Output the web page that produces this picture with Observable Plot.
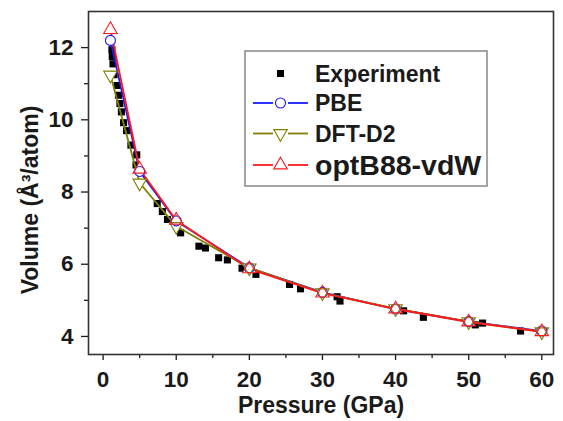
<!DOCTYPE html>
<html>
<head>
<meta charset="utf-8">
<script src="https://cdn.jsdelivr.net/npm/d3@7"></script>
<script src="https://cdn.jsdelivr.net/npm/@observablehq/plot@0.6"></script>
<style>
  html, body { margin: 0; padding: 0; background: white; }
</style>
</head>
<body>
<div id="chart"></div>
<script>
// Experimental data
const expPressure = [1.2, 1.25, 1.35, 1.5, 1.9, 2.1, 2.3, 2.5, 2.8, 3.2, 3.8, 4.6, 4.5, 7.4, 8.1, 8.8, 10.6, 13.1, 14.0, 15.8, 17.0, 19.0, 20.9, 25.5, 27.0, 32.0, 32.4, 41.1, 43.8, 50.9, 51.9, 57.1];
const expVolume   = [11.94, 11.75, 11.55, 11.25, 10.95, 10.68, 10.45, 10.22, 9.92, 9.7, 9.3, 9.03, 8.75, 7.68, 7.46, 7.24, 6.87, 6.5, 6.45, 6.18, 6.12, 5.89, 5.72, 5.44, 5.32, 5.1, 4.98, 4.71, 4.53, 4.32, 4.37, 4.15];

// Calculated data
const calcPressure = [1, 5, 10, 20, 30, 40, 50, 60];
const pbeVolume    = [12.2, 8.57, 7.2, 5.9, 5.22, 4.76, 4.41, 4.15];
const dftd2Volume  = [11.24, 8.25, 7.05, 5.9, 5.21, 4.77, 4.41, 4.13];
const optb88Volume = [12.5, 8.63, 7.22, 5.87, 5.2, 4.76, 4.4, 4.13];

const xMajor = [0, 10, 20, 30, 40, 50, 60];
const xMinor = [5, 15, 25, 35, 45, 55];
const yMajor = [4, 6, 8, 10, 12];
const yMinor = [5, 7, 9, 11];

const seriesNames = ["Experiment", "PBE", "DFT-D2", "optB88-vdW"];
const colors = {"PBE": "#1a1aff", "DFT-D2": "#808000", "optB88-vdW": "#ff1a1a"};

const triangleDown = {
  draw(context, size) {
    const y = -Math.sqrt(size / (3 * Math.sqrt(3)));
    context.moveTo(0, -2 * y);
    context.lineTo(-Math.sqrt(3) * y, y);
    context.lineTo(Math.sqrt(3) * y, y);
    context.closePath();
  }
};
const symbols = {"PBE": "circle", "DFT-D2": triangleDown, "optB88-vdW": "triangle"};

const expRows = expPressure.map((p, i) => ({p, v: expVolume[i]}));
const calc = [
  {name: "PBE", values: pbeVolume},
  {name: "DFT-D2", values: dftd2Volume},
  {name: "optB88-vdW", values: optb88Volume}
].map(s => ({name: s.name, rows: calcPressure.map((p, i) => ({p, v: s.values[i]}))}));

const font = "'Liberation Sans', Arial, Helvetica, sans-serif";

const lineMarks = calc.map(s => Plot.line(s.rows, {x: "p", y: "v", stroke: colors[s.name], strokeWidth: 1.8}));
const maskMarks = calc.map(s => Plot.dot(s.rows, {x: "p", y: "v", symbol: symbols[s.name], r: 5, fill: "white", stroke: "none"}));
const symbolMarks = calc.map(s => Plot.dot(s.rows, {x: "p", y: "v", symbol: symbols[s.name], r: 5, fill: "none", stroke: colors[s.name], strokeWidth: 1.1}));

const chart = Plot.plot({
  width: 563,
  height: 421,
  marginLeft: 88,
  marginRight: 10,
  marginTop: 11,
  marginBottom: 67,
  x: {domain: [-2, 61.6]},
  y: {domain: [3.5, 13]},
  style: {fontFamily: font, fontWeight: "bold", background: "white", color: "#1a1a1a"},
  marks: [
    Plot.axisX({ticks: xMajor, tickSize: 6, tickPadding: 11, fontSize: 22.5, fontWeight: "bold", label: null, strokeWidth: 1.3}),
    Plot.axisX({ticks: xMinor, tickSize: 4, tickFormat: () => "", label: null, strokeWidth: 1.3}),
    Plot.axisY({ticks: yMajor, tickSize: 7, tickPadding: 8, fontSize: 22.5, fontWeight: "bold", label: null, strokeWidth: 1.3}),
    Plot.axisY({ticks: yMinor, tickSize: 4, tickFormat: () => "", label: null, strokeWidth: 1.3}),
    Plot.text(["Pressure (GPa)"], {frameAnchor: "bottom", dy: 58, text: d => d, fontSize: 23, fontWeight: "bold", fill: "#1a1a1a"}),
    Plot.text(["Volume (Å³/atom)"], {frameAnchor: "left", textAnchor: "middle", dx: -58, dy: 17, rotate: -90, text: d => d, fontSize: 23, fontWeight: "bold", fill: "#1a1a1a"}),
    Plot.dot(expRows, {x: "p", y: "v", symbol: "square", r: 4, fill: "black"}),
    ...lineMarks,
    ...maskMarks,
    ...symbolMarks,
    Plot.frame({stroke: "#333", strokeWidth: 1.6})
  ]
});

// Legend drawn inside the plot area
const svg = d3.select(chart);
const lg = svg.append("g").attr("font-family", font).attr("font-weight", "bold").attr("text-anchor", "start");
lg.append("rect").attr("x", 245).attr("y", 51).attr("width", 242).attr("height", 135)
  .attr("fill", "white").attr("stroke", "#888").attr("stroke-width", 1.5);
const rowY = [73.5, 103, 133.5, 165];
const fontSizes = [23, 23, 23, 28.5];
seriesNames.forEach((name, i) => {
  const y = rowY[i];
  if (name === "Experiment") {
    lg.append("rect").attr("x", 277).attr("y", y - 3.5).attr("width", 7).attr("height", 7).attr("fill", "black");
  } else {
    const c = colors[name];
    lg.append("line").attr("x1", 253).attr("x2", 273).attr("y1", y).attr("y2", y).attr("stroke", c).attr("stroke-width", 1.8);
    lg.append("line").attr("x1", 288).attr("x2", 308).attr("y1", y).attr("y2", y).attr("stroke", c).attr("stroke-width", 1.8);
    const sym = name === "PBE" ? d3.symbolCircle : (name === "DFT-D2" ? triangleDown : d3.symbolTriangle);
    lg.append("path").attr("d", d3.symbol(sym, Math.PI * 25)()).attr("transform", `translate(280.5,${y})`)
      .attr("fill", "none").attr("stroke", c).attr("stroke-width", 1.1);
  }
  lg.append("text").attr("x", 315).attr("y", y).attr("dy", "0.36em").attr("font-size", fontSizes[i])
    .attr("text-anchor", "start").attr("fill", "#1a1a1a").text(name);
});

document.getElementById("chart").appendChild(chart);
</script>
</body>
</html>
